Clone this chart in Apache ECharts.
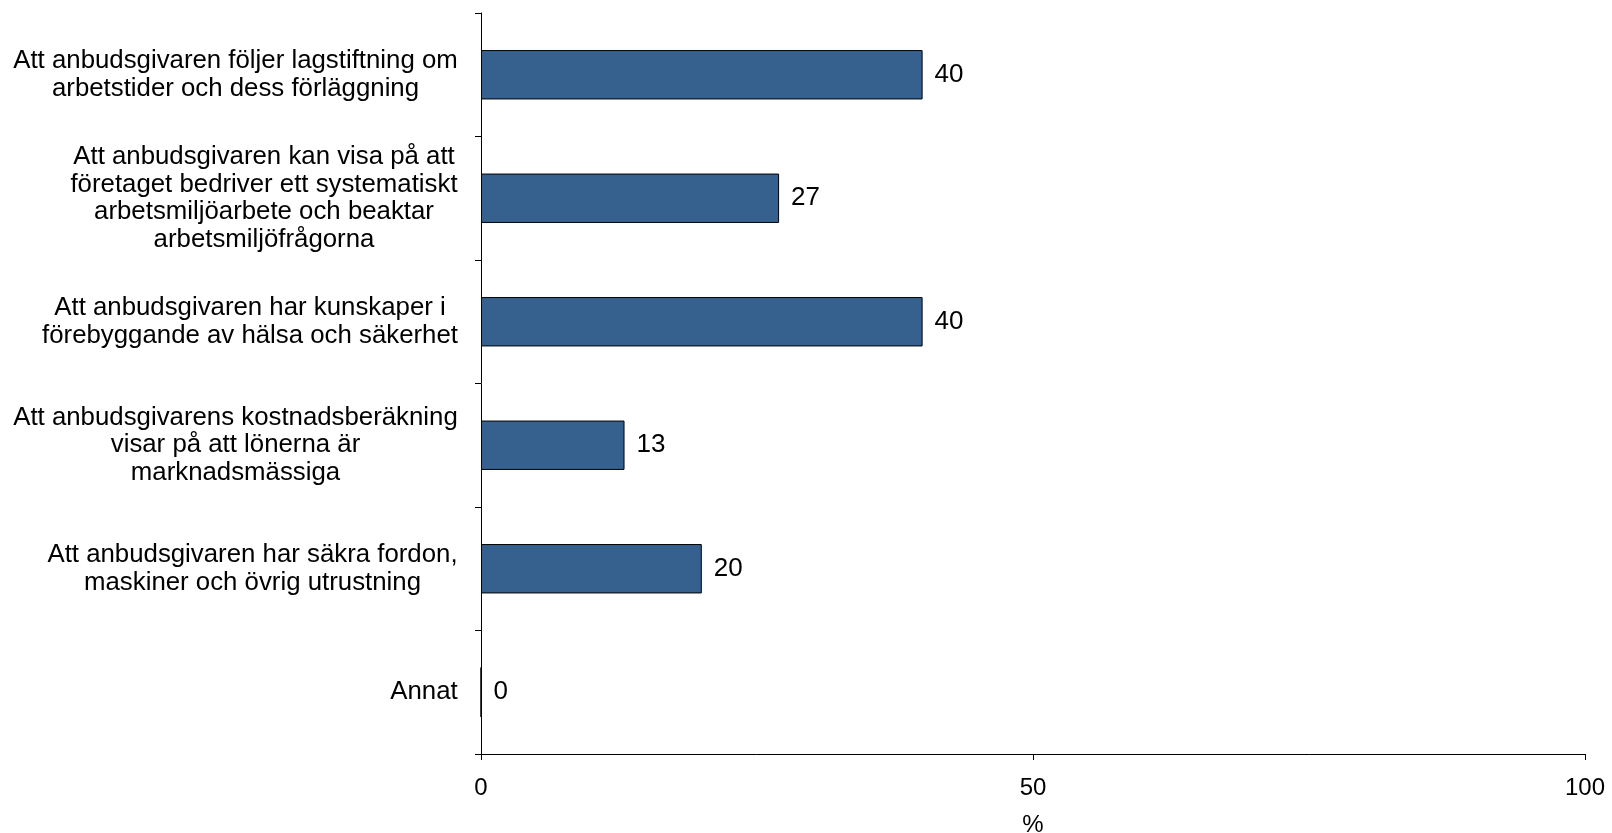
<!DOCTYPE html>
<html><head><meta charset="utf-8">
<script src="https://cdn.jsdelivr.net/npm/echarts@6/dist/echarts.min.js"></script>
<style>html,body{margin:0;padding:0;background:#fff}#c{width:1612px;height:833px}</style>
</head><body><div id="c"></div>
<script>
const categories = [
  "Att anbudsgivaren följer lagstiftning om\narbetstider och dess förläggning",
  "Att anbudsgivaren kan visa på att\nföretaget bedriver ett systematiskt\narbetsmiljöarbete och beaktar\narbetsmiljöfrågorna",
  "Att anbudsgivaren har kunskaper i\nförebyggande av hälsa och säkerhet",
  "Att anbudsgivarens kostnadsberäkning\nvisar på att lönerna är\nmarknadsmässiga",
  "Att anbudsgivaren har säkra fordon,\nmaskiner och övrig utrustning",
  "Annat"
];
const values = [40, 27, 40, 13, 20, 0];
const xTicks = [0, 50, 100];
const xName = "%";

const font = "'Liberation Sans', Arial, sans-serif";
const labelSize = 25.8;

// measure each label's widest line so lines are centered within their own block
const cv = document.createElement('canvas').getContext('2d');
cv.font = labelSize + "px " + font;
const rich = {};
categories.forEach((c, i) => {
  const w = Math.max(...c.split('\n').map(l => cv.measureText(l).width));
  rich['r' + i] = { width: Math.ceil(w), align: 'center', fontFamily: font, fontSize: labelSize, lineHeight: 27.5, color: '#000' };
});

const chart = echarts.init(document.getElementById('c'));
chart.setOption({
  animation: false,
  grid: { left: 481, right: 27, top: 13, bottom: 79, containLabel: false, outerBoundsMode: 'none' },
  xAxis: {
    type: 'value', min: xTicks[0], max: xTicks[xTicks.length-1], interval: 50,
    name: xName, nameLocation: 'middle', nameGap: 59,
    nameTextStyle: { fontFamily: font, fontSize: 24, color: '#000' },
    axisLine: { show: true, lineStyle: { color: '#000', width: 1 } },
    axisTick: { show: true, length: 6, lineStyle: { color: '#000' } },
    axisLabel: { fontFamily: font, fontSize: 24, color: '#000', margin: 22 },
    splitLine: { show: false }
  },
  yAxis: {
    type: 'category', data: categories, inverse: true,
    axisLine: { show: true, lineStyle: { color: '#000', width: 1 } },
    axisTick: { show: true, length: 6, inside: false, lineStyle: { color: '#000' } },
    axisLabel: {
      fontFamily: font, fontSize: labelSize, color: '#000', margin: 23, align: 'right', lineHeight: 27.5,
      rich: rich,
      formatter: (v) => v.split('\n').map(l => '{r' + categories.indexOf(v) + '|' + l + '}').join('\n')
    },
    splitLine: { show: false }
  },
  series: [{
    type: 'bar', data: values, barWidth: '40%',
    itemStyle: { color: '#36618F', borderColor: '#000', borderWidth: 1 },
    label: { show: true, position: 'right', distance: 12, fontFamily: font, fontSize: 26, color: '#000' }
  }]
});
</script></body></html>
